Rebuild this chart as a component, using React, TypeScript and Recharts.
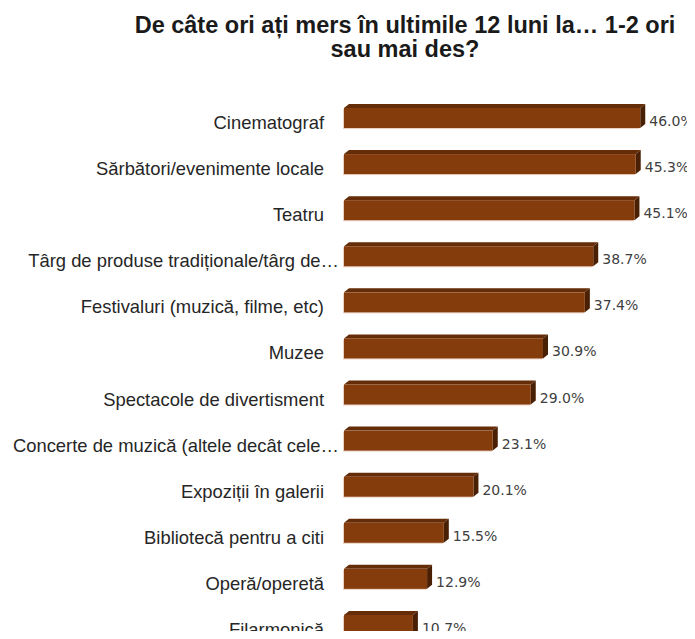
import React, { useLayoutEffect } from "react";
import { BarChart, Bar, XAxis, YAxis } from "recharts";

const titleLines = ["De câte ori ați mers în ultimile 12 luni la… 1-2 ori", "sau mai des?"];

const categories = [
  "Cinematograf",
  "Sărbători/evenimente locale",
  "Teatru",
  "Târg de produse tradiționale/târg de…",
  "Festivaluri (muzică, filme, etc)",
  "Muzee",
  "Spectacole de divertisment",
  "Concerte de muzică (altele decât cele…",
  "Expoziții în galerii",
  "Bibliotecă pentru a citi",
  "Operă/operetă",
  "Filarmonică",
];

const values = [46.0, 45.3, 45.1, 38.7, 37.4, 30.9, 29.0, 23.1, 20.1, 15.5, 12.9, 10.7];

const data = categories.map((name, i) => ({ name, value: values[i] }));

const FRONT = "#843C0C";
const TOP = "#652C08";
const SIDE = "#4A2005";

const BarShape = (props: any) => {
  const { x, y, width, height } = props;
  const dx = 5;
  const dy = 4;
  return (
    <g>
      <rect x={x - 1} y={y + 1} width={width} height={height} fill="#EBCFC0" />
      <polygon
        points={`${x},${y} ${x + dx},${y - dy} ${x + width + dx},${y - dy} ${x + width},${y}`}
        fill={TOP}
      />
      <polygon
        points={`${x + width},${y} ${x + width + dx},${y - dy} ${x + width + dx},${y + height - dy} ${x + width},${y + height}`}
        fill={SIDE}
      />
      <rect x={x} y={y} width={width} height={height} fill={FRONT} />
    </g>
  );
};

const CategoryTick = (props: any) => {
  const { x, y, payload } = props;
  const text: string = payload.value;
  const truncated = text.endsWith("…");
  return (
    <text
      x={x + (truncated ? -5 : -20)}
      y={y + 11}
      textAnchor="end"
      fill="#262626"
      fontFamily="'Liberation Sans', Arial, sans-serif"
      fontSize={18.4}
    >
      {text}
    </text>
  );
};

const ValueLabel = (props: any) => {
  const { x, y, width, height, value } = props;
  return (
    <text
      x={x + width + 9}
      y={y + height / 2 + 8}
      textAnchor="start"
      fill="#404040"
      fontFamily="'DejaVu Sans', Verdana, sans-serif"
      fontSize={14}
    >
      {`${Number(value).toFixed(1)}%`}
    </text>
  );
};

export default function App() {
  useLayoutEffect(() => {
    document.documentElement.style.overflow = "hidden";
    document.body.style.overflow = "hidden";
  }, []);
  return (
    <div
      style={{
        position: "relative",
        width: 687,
        height: 631,
        marginBottom: -8,
        overflow: "hidden",
        background: "#fff",
      }}
    >
      <div
        style={{
          position: "absolute",
          left: 97,
          top: 5,
          width: 600,
          textAlign: "center",
          fontFamily: "'Liberation Sans', Arial, sans-serif",
          fontWeight: "bold",
          fontSize: 23.5,
          lineHeight: "24px",
          color: "#1a1a1a",
          whiteSpace: "nowrap",
        }}
      >
        {titleLines.map((t, i) => (
          <div key={i}>{t}</div>
        ))}
      </div>
      <BarChart
        width={687}
        height={642}
        data={data}
        layout="vertical"
        margin={{ top: 87, right: 29, bottom: 2, left: 0 }}
      >
        <XAxis type="number" domain={[0, 50]} hide />
        <YAxis
          type="category"
          dataKey="name"
          width={336}
          axisLine={false}
          tickLine={false}
          tickSize={0}
          tickMargin={0}
          interval={0}
          tick={<CategoryTick />}
        />
        <Bar
          dataKey="value"
          barSize={20}
          isAnimationActive={false}
          shape={<BarShape />}
          label={<ValueLabel />}
        />
      </BarChart>
    </div>
  );
}
